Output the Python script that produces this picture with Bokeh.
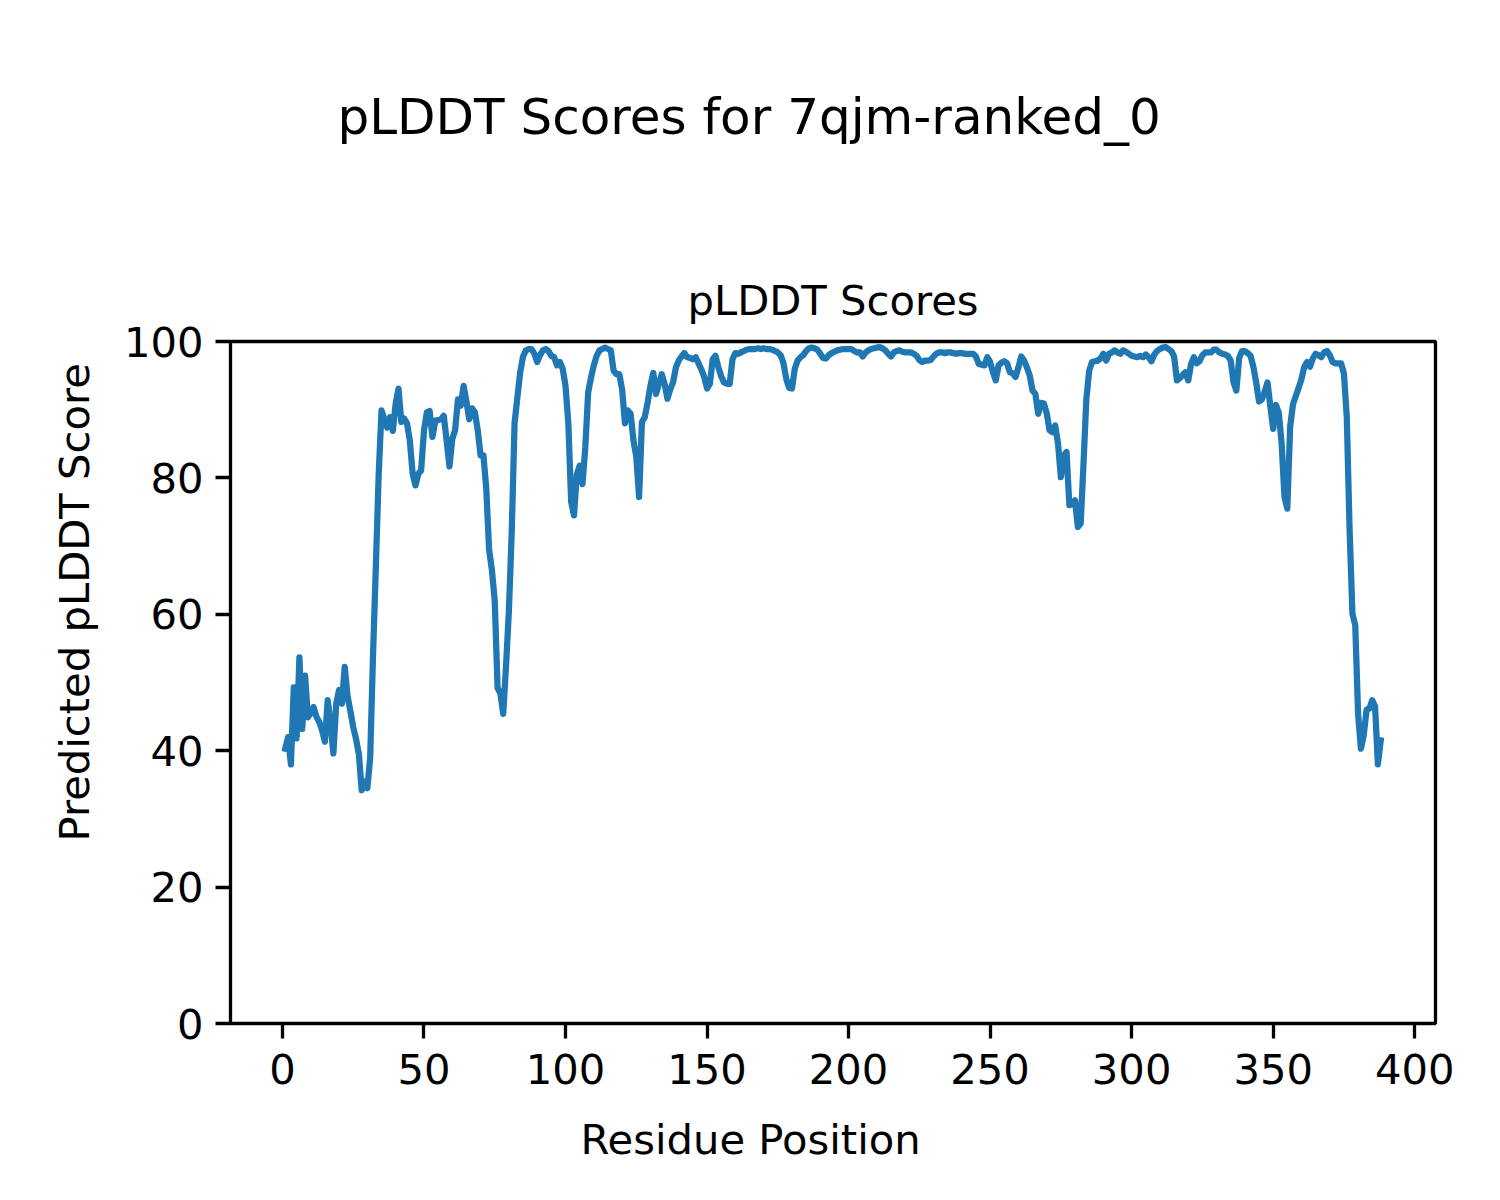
from bokeh.plotting import figure
from bokeh.models import Range1d, Title, FixedTicker
from bokeh.embed import file_html
from bokeh.resources import INLINE

# ---------------- data ----------------
suptitle_text = "pLDDT Scores for 7qjm-ranked_0"
axes_title_text = "pLDDT Scores"
x_label_text = "Residue Position"
y_label_text = "Predicted pLDDT Score"

x_ticks = [0, 50, 100, 150, 200, 250, 300, 350, 400]
y_ticks = [0, 20, 40, 60, 80, 100]

residues = list(range(1, 389))
scores = [
    40.3, 42.0, 38.0, 49.3, 41.8, 53.7, 43.2, 51.0, 44.9, 45.5,
    46.4, 45.0, 44.2, 43.0, 41.3, 47.4, 44.0, 39.6, 46.9, 48.9,
    46.9, 52.3, 48.0, 45.8, 43.5, 41.7, 39.5, 34.2, 35.5, 34.5,
    39.0, 54.0, 67.0, 80.5, 89.9, 88.6, 87.4, 88.9, 86.9, 90.9,
    93.1, 88.2, 88.7, 88.0, 85.5, 80.6, 78.9, 80.6, 81.1, 86.9,
    89.6, 89.8, 86.0, 88.4, 88.5, 88.6, 89.1, 85.5, 81.7, 85.7,
    87.0, 91.5, 90.6, 93.5, 91.2, 88.6, 90.2, 89.6, 87.0, 83.3,
    83.3, 78.5, 69.5, 66.5, 62.0, 49.2, 48.4, 45.4, 52.5, 60.5,
    72.0, 88.0, 91.8, 95.5, 97.8, 98.7, 98.9, 98.9, 98.2, 97.0,
    98.0, 98.7, 98.9, 98.6, 97.9, 97.7, 96.5, 97.0, 96.0, 93.5,
    88.0, 76.5, 74.5, 80.5, 81.8, 79.1, 84.5, 92.5, 94.7, 96.5,
    97.9, 98.7, 98.9, 99.1, 98.9, 98.7, 95.7, 95.2, 95.2, 93.0,
    88.0, 89.9, 89.4, 85.5, 83.1, 77.2, 88.2, 88.9, 91.0, 93.5,
    95.4, 92.3, 93.8, 95.2, 93.8, 91.6, 93.0, 94.0, 96.2, 97.2,
    97.8, 98.3, 97.7, 97.6, 97.4, 97.7, 96.8, 95.9, 94.8, 93.1,
    93.8, 97.4, 97.9, 96.2, 94.9, 94.0, 93.8, 93.8, 97.4, 98.3,
    98.2, 98.4, 98.6, 98.8, 98.9, 98.9, 98.9, 99.0, 98.9, 99.0,
    98.9, 98.9, 98.8, 98.6, 98.4, 98.0, 96.8, 94.5, 93.2, 93.1,
    96.0, 97.2, 97.7, 98.0, 98.6, 99.0, 99.1, 99.0, 98.8, 98.2,
    97.6, 97.5, 98.0, 98.3, 98.5, 98.7, 98.8, 98.9, 98.9, 98.9,
    98.9, 98.6, 98.4, 98.4, 97.8, 98.4, 98.7, 98.9, 99.0, 99.1,
    99.2, 99.0, 98.7, 98.2, 97.8, 98.4, 98.6, 98.7, 98.5, 98.4,
    98.4, 98.4, 98.2, 97.9, 97.3, 97.0, 97.2, 97.2, 97.3, 97.8,
    98.2, 98.4, 98.4, 98.3, 98.4, 98.4, 98.3, 98.2, 98.3, 98.3,
    98.2, 98.2, 98.2, 98.2, 97.8, 96.7, 96.6, 96.5, 97.7, 97.0,
    95.5, 94.3, 96.5, 96.9, 97.1, 96.8, 95.5, 95.3, 94.8, 96.2,
    97.8, 97.2, 96.2, 95.0, 92.8, 92.3, 89.4, 91.0, 90.9, 89.5,
    87.0, 86.7, 87.7, 85.0, 80.1, 83.3, 83.8, 76.0, 76.2, 76.7,
    72.8, 73.3, 82.1, 91.5, 95.7, 97.0, 97.1, 97.2, 97.5, 98.2,
    97.2, 98.2, 98.4, 98.7, 98.4, 98.2, 98.7, 98.5, 98.2, 97.9,
    97.8, 97.7, 97.9, 97.7, 98.1, 97.7, 97.1, 98.1, 98.6, 98.9,
    99.1, 99.2, 98.9, 98.6, 97.8, 94.3, 94.6, 95.1, 95.5, 94.3,
    96.7, 97.7, 96.8, 97.1, 98.0, 98.4, 98.4, 98.4, 98.8, 98.8,
    98.4, 98.2, 98.1, 97.9, 97.2, 94.0, 92.8, 97.6, 98.6, 98.6,
    98.3, 97.9, 96.3, 94.0, 91.2, 91.5, 92.6, 94.0, 90.5, 87.2,
    90.7, 89.5, 85.0, 77.2, 75.5, 87.5, 90.8, 92.0, 93.2, 94.5,
    96.3, 97.0, 96.3, 97.5, 98.2, 98.0, 97.7, 98.4, 98.6, 98.0,
    97.0, 96.8, 96.8, 96.8, 95.3, 89.0, 72.5, 60.1, 58.4, 45.4,
    40.3, 42.3, 46.0, 46.2, 47.4, 46.5, 38.0, 41.5,
]

# ---------------- layout ----------------
W, H = 1484, 1184
FL, FT, FR, FB = 230, 341, 1435, 1023   # frame edges in canvas px
FONT = "DejaVu Sans"
TICK_FS = "41.7px"

p = figure(width=W, height=H, output_backend="svg", toolbar_location=None,
           x_range=Range1d(-18.35, 407.35), y_range=Range1d(0, 100),
           min_border_left=FL, min_border_right=W - FR,
           min_border_top=FT, min_border_bottom=H - FB)

p.background_fill_color = "white"
p.border_fill_color = "white"
p.grid.visible = False
p.outline_line_color = "black"
p.outline_line_width = 3.3
p.outline_line_alpha = 1.0

for ax in (p.xaxis[0], p.yaxis[0]):
    ax.axis_line_color = None
    ax.major_tick_line_color = "black"
    ax.major_tick_line_width = 3.3
    ax.major_tick_out = 15
    ax.major_tick_in = 0
    ax.minor_tick_line_color = None
    ax.major_label_text_font = FONT
    ax.major_label_text_font_size = TICK_FS
    ax.major_label_text_color = "black"
p.xaxis[0].major_label_standoff = 15
p.yaxis[0].major_label_standoff = 12

p.xaxis[0].ticker = FixedTicker(ticks=x_ticks)
p.yaxis[0].ticker = FixedTicker(ticks=y_ticks)

p.line(x=residues, y=scores, line_color="#1f77b4", line_width=6.25,
       line_join="round", line_cap="square")


def spacer(px):
    return Title(text=" ", text_font_size="1px", standoff=px)


def title(text, size, align="left", offset=0, standoff=0):
    return Title(text=text, align=align, offset=offset, text_font=FONT,
                 text_font_size=size, text_font_style="normal",
                 text_color="black", standoff=standoff)


# above: axes title (closest to frame), spacer, figure title
p.add_layout(title(axes_title_text, "41.7px", align="center", standoff=34), "above")
p.add_layout(spacer(108), "above")
p.add_layout(title(suptitle_text, "50px", offset=107), "above")
# below: spacer after the tick labels, then figure-level x label
p.add_layout(spacer(23), "below")
p.add_layout(title(x_label_text, "41.7px", offset=350), "below")
# left: figure-level y label
p.add_layout(title(y_label_text, "41.7px", offset=182, standoff=44), "left")

open("out.html", "w").write(file_html(p, INLINE))
